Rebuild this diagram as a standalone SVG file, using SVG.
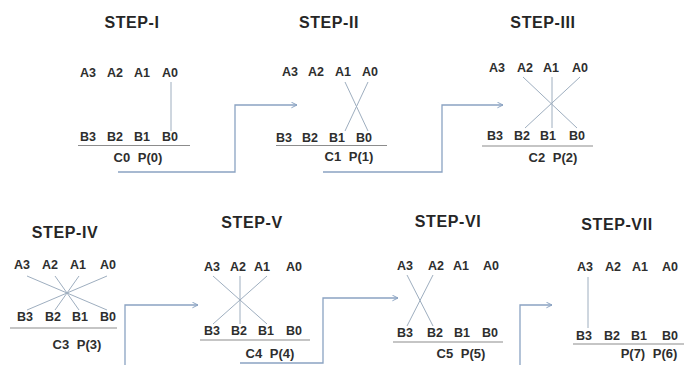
<svg xmlns="http://www.w3.org/2000/svg" width="684" height="365" viewBox="0 0 684 365">
  <style>
    .title { font-family: "Liberation Sans", Arial, sans-serif; font-weight: bold; font-size: 16px; fill: #262626; text-anchor: middle; letter-spacing: 0.6px; }
    .bit { font-family: "Liberation Sans", Arial, sans-serif; font-weight: bold; font-size: 12.5px; fill: #2e2e2e; text-anchor: middle; }
    .res { font-family: "Liberation Sans", Arial, sans-serif; font-weight: bold; font-size: 13px; fill: #2e2e2e; text-anchor: middle; word-spacing: 4px; }
    .rule { stroke: #8c8c8c; stroke-width: 1.2; }
    .cross { stroke: #9eaebf; stroke-width: 1; fill: none; }
    .flow { stroke: #8aa3c2; stroke-width: 1.3; fill: none; }
  </style>
  <defs>
    <marker id="arrow" viewBox="0 0 10 10" refX="9" refY="5" markerWidth="7" markerHeight="7" markerUnits="userSpaceOnUse" orient="auto">
      <path d="M1,1 L9,5 L1,9" fill="none" stroke="#8aa3c2" stroke-width="1.4"/>
    </marker>
  </defs>
  <rect width="684" height="365" fill="#ffffff"/>

  <!-- step-to-step flow -->
  <g id="connectors">
    <polyline class="flow" points="118,172 235,172 235,105 297,105" marker-end="url(#arrow)"/>
    <polyline class="flow" points="323,172 442,172 442,105 503,105" marker-end="url(#arrow)"/>
    <polyline class="flow" points="125,366 125,305 198,305" marker-end="url(#arrow)"/>
    <polyline class="flow" points="240,363 323,363 323,298 398,298" marker-end="url(#arrow)"/>
    <polyline class="flow" points="520,366 520,305 552,305" marker-end="url(#arrow)"/>
  </g>

  <g id="step1">
    <text class="title" x="132" y="28">STEP-I</text>
    <text class="bit" x="88" y="77">A3</text><text class="bit" x="115" y="77">A2</text><text class="bit" x="142" y="77">A1</text><text class="bit" x="170" y="77">A0</text>
    <line class="cross" x1="171" y1="82" x2="171" y2="131"/>
    <text class="bit" x="88" y="141">B3</text><text class="bit" x="115" y="141">B2</text><text class="bit" x="142" y="141">B1</text><text class="bit" x="170" y="141">B0</text>
    <line class="rule" x1="78" y1="145.5" x2="190" y2="145.5"/>
    <text class="res" x="138" y="162">C0 P(0)</text>
  </g>

  <g id="step2">
    <text class="title" x="329" y="28">STEP-II</text>
    <text class="bit" x="290" y="76">A3</text><text class="bit" x="316" y="76">A2</text><text class="bit" x="343" y="76">A1</text><text class="bit" x="370" y="76">A0</text>
    <line class="cross" x1="345" y1="82" x2="368" y2="131"/>
    <line class="cross" x1="368" y1="82" x2="345" y2="131"/>
    <text class="bit" x="284" y="142">B3</text><text class="bit" x="310" y="142">B2</text><text class="bit" x="337" y="142">B1</text><text class="bit" x="364" y="142">B0</text>
    <line class="rule" x1="276" y1="145.5" x2="387" y2="145.5"/>
    <text class="res" x="349" y="161">C1 P(1)</text>
  </g>

  <g id="step3">
    <text class="title" x="543" y="28">STEP-III</text>
    <text class="bit" x="497" y="72">A3</text><text class="bit" x="525" y="72">A2</text><text class="bit" x="551" y="72">A1</text><text class="bit" x="580" y="72">A0</text>
    <line class="cross" x1="523" y1="77" x2="577" y2="128"/>
    <line class="cross" x1="580" y1="77" x2="525" y2="128"/>
    <line class="cross" x1="552" y1="77" x2="552" y2="128"/>
    <text class="bit" x="495" y="140">B3</text><text class="bit" x="522" y="140">B2</text><text class="bit" x="548" y="140">B1</text><text class="bit" x="577" y="140">B0</text>
    <line class="rule" x1="482" y1="146" x2="593" y2="146"/>
    <text class="res" x="553" y="162">C2 P(2)</text>
  </g>

  <g id="step4">
    <text class="title" x="65" y="238">STEP-IV</text>
    <text class="bit" x="22" y="269">A3</text><text class="bit" x="50" y="269">A2</text><text class="bit" x="78" y="269">A1</text><text class="bit" x="108" y="269">A0</text>
    <line class="cross" x1="27" y1="276" x2="107" y2="310"/>
    <line class="cross" x1="107" y1="276" x2="27" y2="310"/>
    <line class="cross" x1="55" y1="276" x2="79" y2="310"/>
    <line class="cross" x1="79" y1="276" x2="55" y2="310"/>
    <text class="bit" x="25" y="321">B3</text><text class="bit" x="53" y="321">B2</text><text class="bit" x="80" y="321">B1</text><text class="bit" x="108" y="321">B0</text>
    <line class="rule" x1="10" y1="328" x2="117" y2="328"/>
    <text class="res" x="77" y="349">C3 P(3)</text>
  </g>

  <g id="step5">
    <text class="title" x="252" y="228">STEP-V</text>
    <text class="bit" x="212" y="271">A3</text><text class="bit" x="238" y="271">A2</text><text class="bit" x="262" y="271">A1</text><text class="bit" x="294" y="271">A0</text>
    <line class="cross" x1="213" y1="276" x2="267" y2="324"/>
    <line class="cross" x1="267" y1="276" x2="213" y2="324"/>
    <line class="cross" x1="240" y1="276" x2="240" y2="324"/>
    <text class="bit" x="212" y="335">B3</text><text class="bit" x="239" y="335">B2</text><text class="bit" x="266" y="335">B1</text><text class="bit" x="294" y="335">B0</text>
    <line class="rule" x1="200" y1="340" x2="310" y2="340"/>
    <text class="res" x="270" y="358">C4 P(4)</text>
  </g>

  <g id="step6">
    <text class="title" x="448" y="227">STEP-VI</text>
    <text class="bit" x="405" y="270">A3</text><text class="bit" x="436" y="270">A2</text><text class="bit" x="461" y="270">A1</text><text class="bit" x="491" y="270">A0</text>
    <line class="cross" x1="407" y1="275" x2="433" y2="326"/>
    <line class="cross" x1="433" y1="275" x2="407" y2="326"/>
    <text class="bit" x="405" y="337">B3</text><text class="bit" x="435" y="337">B2</text><text class="bit" x="462" y="337">B1</text><text class="bit" x="490" y="337">B0</text>
    <line class="rule" x1="393" y1="342" x2="503" y2="342"/>
    <text class="res" x="461" y="358">C5 P(5)</text>
  </g>

  <g id="step7">
    <text class="title" x="617" y="230">STEP-VII</text>
    <text class="bit" x="585" y="271">A3</text><text class="bit" x="613" y="271">A2</text><text class="bit" x="640" y="271">A1</text><text class="bit" x="670" y="271">A0</text>
    <line class="cross" x1="588" y1="277" x2="588" y2="328"/>
    <text class="bit" x="584" y="340">B3</text><text class="bit" x="612" y="340">B2</text><text class="bit" x="639" y="340">B1</text><text class="bit" x="670" y="340">B0</text>
    <line class="rule" x1="573" y1="344" x2="684" y2="344"/>
    <text class="res" x="649" y="358">P(7) P(6)</text>
  </g>
</svg>
